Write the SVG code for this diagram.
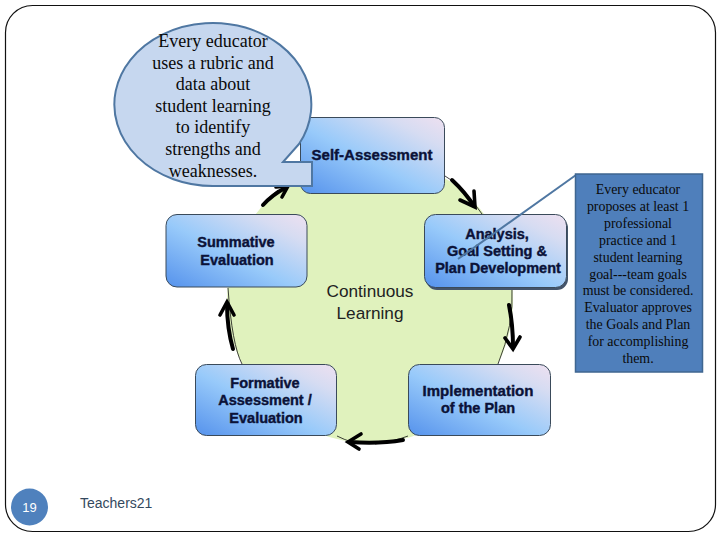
<svg xmlns="http://www.w3.org/2000/svg" width="720" height="540" viewBox="0 0 720 540">
<style>
.box{fill:url(#g);stroke:#3a4a5a;stroke-width:1}
.lab{font-family:"Liberation Sans",Arial,sans-serif;font-weight:bold;font-size:14.5px;fill:#0b1238;text-anchor:middle;stroke:#0b1238;stroke-width:.4px}
.arrow{fill:none;stroke:#000;stroke-width:4;stroke-linecap:round}
.head{fill:none;stroke:#000;stroke-width:3.6;stroke-linecap:round;stroke-linejoin:miter}
.thin{fill:none;stroke:#111;stroke-width:.8}
.ser{font-family:"Liberation Serif","Times New Roman",serif;text-anchor:middle;fill:#0a0a0a}
.c{font-size:18px}
.r{font-size:13.9px}
.mid{font-family:"Liberation Sans",Arial,sans-serif;font-size:17.2px;fill:#222;text-anchor:middle}
</style>
<defs>
<linearGradient id="g" x1="0" y1="1" x2="1" y2="0">
<stop offset="0" stop-color="#5592ec"/>
<stop offset=".45" stop-color="#98cafa"/>
<stop offset=".8" stop-color="#d6dcf2"/>
<stop offset="1" stop-color="#eee0f0"/>
</linearGradient>
</defs>
<rect width="720" height="540" fill="#fff"/>
<rect id="frame" x="5.5" y="5.5" width="710" height="526" rx="27" fill="#fff" stroke="#111" stroke-width="1.2"/>
<circle id="hub" cx="370" cy="300" r="143" fill="#e0f2bd"/>
<g id="connectors">
<path class="thin" d="M445 176Q462 185 482 214M512 288Q514 325 498 364M408 436Q395 441 375 444M337 436Q345 440 352 442M242 364Q232 345 228 288M262 205Q268 198 278 190"/>
<path class="arrow" d="M452 180Q465 192 474 206"/>
<path class="head" d="M474 191L475 207L460 200"/>
<path class="arrow" d="M509 305Q513 325 513 347"/>
<path class="head" d="M505 338L513 349L520 337"/>
<path class="arrow" d="M403 440Q380 444 350 442"/>
<path class="head" d="M361 434L348 442L359 449"/>
<path class="arrow" d="M233 349Q227 328 227 304"/>
<path class="head" d="M220 315L227 302L234 315"/>
<path class="arrow" d="M263 205Q272 195 285 188"/>
<path class="head" d="M276 187L288 186L282 197"/>
</g>
<g id="self-assessment">
<rect class="box" x="300.500" y="117.500" width="144" height="76" rx="10"/>
<text class="lab" x="372" y="160" style="font-size:15px">Self-Assessment</text>
</g>
<g id="analysis">
<rect x="426" y="217" width="142" height="73" rx="11" fill="#44546a"/>
<rect class="box" x="424.500" y="214.500" width="142" height="73" rx="11"/>
<text class="lab" x="497" y="239">Analysis,</text>
<text class="lab" x="497" y="256">Goal Setting &amp;</text>
<text class="lab" x="498" y="273">Plan Development</text>
</g>
<g id="implementation">
<rect class="box" x="408.500" y="364.500" width="142" height="71" rx="11"/>
<text class="lab" x="478" y="396" style="font-size:15px">Implementation</text>
<text class="lab" x="478" y="413">of the Plan</text>
</g>
<g id="formative">
<rect class="box" x="195.500" y="364.500" width="141" height="71" rx="11"/>
<text class="lab" x="265" y="388">Formative</text>
<text class="lab" x="265" y="405">Assessment /</text>
<text class="lab" x="266" y="423">Evaluation</text>
</g>
<g id="summative">
<rect class="box" x="166" y="214.500" width="141" height="72.500" rx="11"/>
<text class="lab" x="236" y="247">Summative</text>
<text class="lab" x="237" y="265">Evaluation</text>
</g>
<text class="mid" x="370" y="297">Continuous</text>
<text class="mid" x="370" y="319">Learning</text>
<g id="callout">
<path d="M299 144L283 162L312 162L312 186L213 186A98.500 81.500 0 1 1 299 144Z" fill="#c6d7ef" stroke="#4f77a2" stroke-width="2"/>
<g class="ser c">
<text x="213" y="47">Every educator</text>
<text x="213" y="68.500">uses a rubric and</text>
<text x="213" y="90">data about</text>
<text x="213" y="112">student learning</text>
<text x="213" y="133">to identify</text>
<text x="213" y="155">strengths and</text>
<text x="213" y="176.500">weaknesses.</text>
</g>
</g>
<g id="note">
<path d="M576 175L458 259" fill="none" stroke="#4f77a2" stroke-width="2"/>
<rect x="575.500" y="174" width="127" height="198" fill="#4f7fbb" stroke="#3f6690" stroke-width="1.500"/>
<g class="ser r">
<text x="638" y="194">Every educator</text>
<text x="638" y="211">proposes at least 1</text>
<text x="638" y="228">professional</text>
<text x="638" y="245">practice  and 1</text>
<text x="638" y="261.500">student learning</text>
<text x="638" y="278.500">goal---team goals</text>
<text x="638" y="295">must be considered.</text>
<text x="638" y="312">Evaluator approves</text>
<text x="638" y="329">the Goals and Plan</text>
<text x="638" y="345.500">for accomplishing</text>
<text x="638" y="362.500">them.</text>
</g>
</g>
<g id="page-number">
<circle cx="29.500" cy="507" r="18.500" fill="#4f81bd"/>
<text x="29.500" y="512" font-family="Liberation Sans,Arial,sans-serif" font-size="13" fill="#fff" text-anchor="middle">19</text>
</g>
<text id="footer" x="80" y="508" font-family="Liberation Sans,Arial,sans-serif" font-size="14" fill="#34495e">Teachers21</text>
</svg>
